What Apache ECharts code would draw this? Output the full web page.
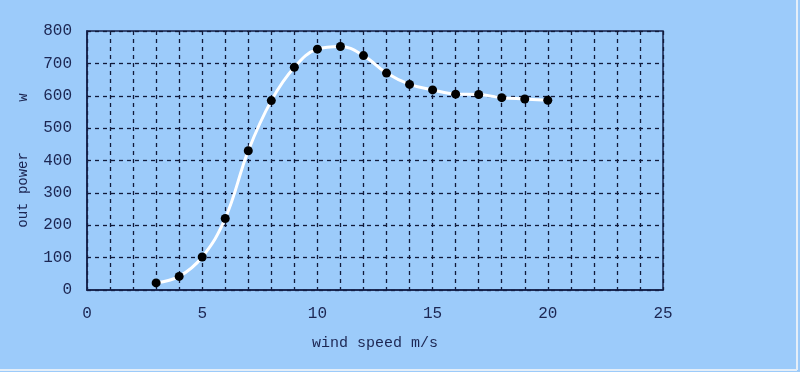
<!DOCTYPE html>
<html><head><meta charset="utf-8">
<script src="https://cdn.jsdelivr.net/npm/echarts@6/dist/echarts.min.js"></script>
<style>html,body{margin:0;padding:0;background:#9ccbfa;}#c{width:800px;height:372px;}</style>
</head><body><div id="c"></div>
<script>
const windSpeed = [3,4,5,6,7,8,9,10,11,12,13,14,15,16,17,18,19,20];
const outPower = [22,42,102,221,430,585,688,744,752,724,670,635,618,605,604,594,590,586];
const xTicks = [0,5,10,15,20,25];
const yTicks = [0,100,200,300,400,500,600,700,800];

const font = '"Liberation Mono", "DejaVu Sans Mono", monospace';
const txt = '#1c2652';
const chart = echarts.init(document.getElementById('c'));
chart.setOption({
  backgroundColor: '#9ccbfa',
  animation: false,
  grid: {left: 87, right: 137, top: 31, bottom: 82, show: true, borderColor: '#14204a', borderWidth: 1.5},
  xAxis: {
    type: 'value', min: xTicks[0], max: xTicks[xTicks.length-1], interval: 1,
    name: 'wind speed m/s', nameLocation: 'middle', nameGap: 46,
    nameTextStyle: {fontFamily: font, fontSize: 15, color: txt},
    axisLine: {show: true, lineStyle: {color: '#14204a', width: 1.5}},
    axisTick: {show: false},
    axisLabel: {fontFamily: font, fontSize: 16, color: txt, margin: 16,
      formatter: v => xTicks.includes(v) ? String(v) : ''},
    splitLine: {show: true, lineStyle: {color: '#111a3a', type: [4,4], width: 1.3}}
  },
  yAxis: {
    type: 'value', min: yTicks[0], max: yTicks[yTicks.length-1], interval: 100,
    name: 'out power      w', nameLocation: 'middle', nameGap: 57, nameRotate: 90,
    nameTextStyle: {fontFamily: font, fontSize: 14, color: txt},
    axisLine: {show: true, lineStyle: {color: '#14204a', width: 1.5}},
    axisTick: {show: false},
    axisLabel: {fontFamily: font, fontSize: 16, color: txt, margin: 15},
    splitLine: {show: true, lineStyle: {color: '#111a3a', type: [4,4], width: 1.3}}
  },
  series: [{
    type: 'line', smooth: 0.4,
    data: windSpeed.map((x,i) => [x, outPower[i]]),
    symbol: 'circle', symbolSize: 9,
    itemStyle: {color: '#000000'},
    lineStyle: {color: '#ffffff', width: 3}
  }],
  graphic: [
    {type: 'line', shape: {x1: 797, y1: 0, x2: 797, y2: 370}, style: {stroke: '#e4eef8', lineWidth: 2}},
    {type: 'line', shape: {x1: 0, y1: 370, x2: 797, y2: 370}, style: {stroke: '#e4eef8', lineWidth: 2}}
  ]
});
</script></body></html>
